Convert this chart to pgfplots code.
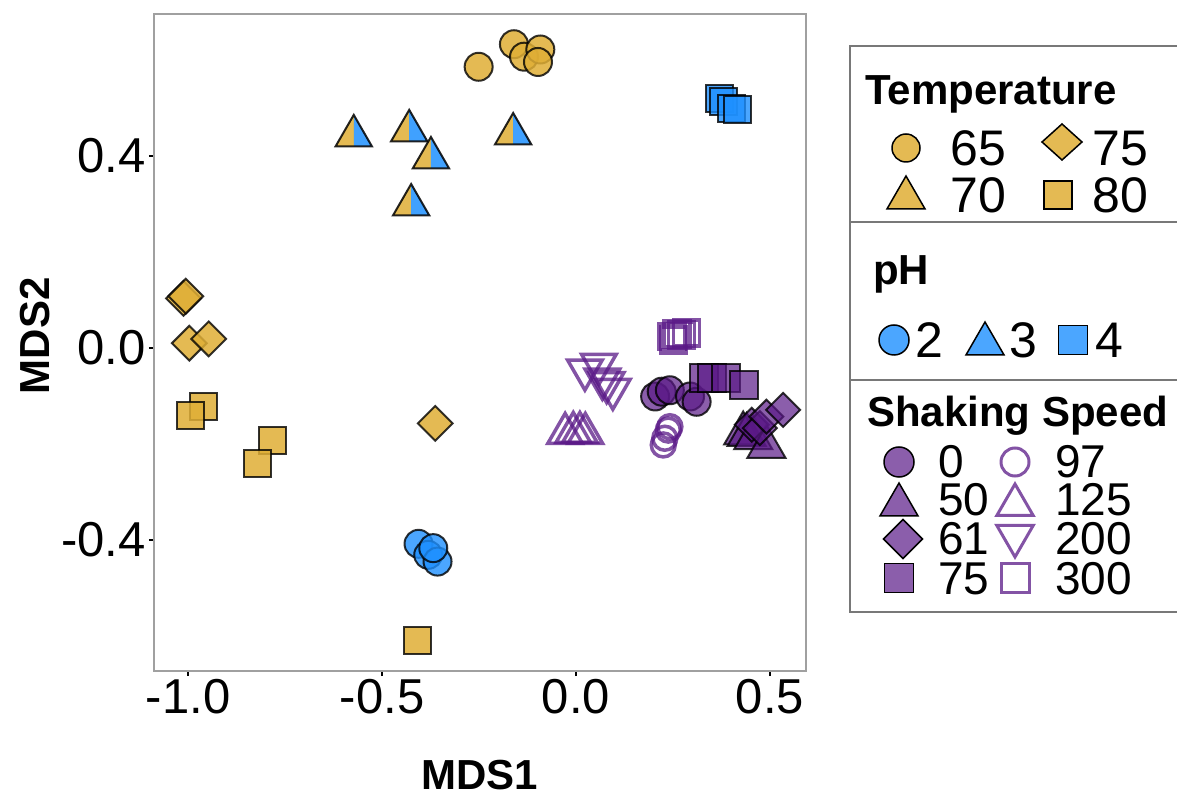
\documentclass[border=0pt]{standalone}
\usepackage{pgfplots}
\pgfplotsset{compat=1.18}
\usepackage{fontspec}
\setmainfont{Liberation Sans}
\definecolor{tgold}{RGB}{223,174,53}
\definecolor{tblue}{RGB}{30,144,255}
\definecolor{tpurp}{RGB}{90,25,135}
\definecolor{framegray}{RGB}{160,160,160}
\definecolor{leggray}{RGB}{120,120,120}

\pgfdeclareplotmark{splittri}{%
  \pgfsetfillopacity{0.85}%
  \pgfpathmoveto{\pgfqpoint{0pt}{\pgfplotmarksize}}%
  \pgfpathlineto{\pgfqpoint{-0.8660254\pgfplotmarksize}{-0.5\pgfplotmarksize}}%
  \pgfpathlineto{\pgfqpoint{0pt}{-0.5\pgfplotmarksize}}%
  \pgfpathclose
  \pgfsetfillcolor{tgold}%
  \pgfusepath{fill}%
  \pgfpathmoveto{\pgfqpoint{0pt}{\pgfplotmarksize}}%
  \pgfpathlineto{\pgfqpoint{0.8660254\pgfplotmarksize}{-0.5\pgfplotmarksize}}%
  \pgfpathlineto{\pgfqpoint{0pt}{-0.5\pgfplotmarksize}}%
  \pgfpathclose
  \pgfsetfillcolor{tblue}%
  \pgfusepath{fill}%
  \pgfpathmoveto{\pgfqpoint{0pt}{\pgfplotmarksize}}%
  \pgfpathlineto{\pgfqpoint{-0.8660254\pgfplotmarksize}{-0.5\pgfplotmarksize}}%
  \pgfpathlineto{\pgfqpoint{0.8660254\pgfplotmarksize}{-0.5\pgfplotmarksize}}%
  \pgfpathclose
  \pgfsetstrokecolor{black}%
  \pgfsetstrokeopacity{0.85}%
  \pgfusepath{stroke}%
}

\newcommand{\legtri}[4]{\filldraw[#1] (#2,#3) ++(0,#4) -- ++({-0.866*#4},{-1.5*#4}) -- ++({1.732*#4},0) -- cycle;}
\newcommand{\leginvtri}[4]{\filldraw[#1] (#2,#3) ++(0,-#4) -- ++({-0.866*#4},{1.5*#4}) -- ++({1.732*#4},0) -- cycle;}
\newcommand{\legsq}[4]{\filldraw[#1] ({#2-#4},{#3-#4}) rectangle ({#2+#4},{#3+#4});}
\newcommand{\legdia}[5]{\filldraw[#1] (#2,{#3+#5}) -- ({#2+#4},#3) -- (#2,{#3-#5}) -- ({#2-#4},#3) -- cycle;}
\newcommand{\legtxt}[3]{\node[anchor=base west, inner sep=0pt, font=\fontsize{50}{52}\selectfont] at (#1,#2) {#3};}
\newcommand{\legtxts}[3]{\node[anchor=base west, inner sep=0pt, font=\fontsize{46}{47}\selectfont] at (#1,#2) {#3};}

\begin{document}
\begin{tikzpicture}[x=1pt,y=1pt]
\useasboundingbox (0,0) rectangle (1177,798);
\begin{axis}[
  at={(154pt,127pt)}, anchor=south west, scale only axis,
  width=652pt, height=657pt,
  xmin=-1.088, xmax=0.593, ymin=-0.673, ymax=0.696,
  axis line style={framegray, line width=2.5pt},
  xtick={-1,-0.5,0,0.5}, xticklabels={-1.0,-0.5,0.0,0.5},
  ytick={-0.4,0,0.4}, yticklabels={-0.4,0.0,0.4},
  tick align=outside, xtick pos=bottom, ytick pos=left,
  major tick length=5pt, tick style={black, line width=2pt},
  ticklabel style={font=\fontsize{49}{50}\selectfont, text=black},
  xlabel={MDS1}, ylabel={MDS2},
  label style={font=\fontsize{42}{44}\selectfont\bfseries},
  xlabel style={at={(axis description cs:0.5,-0.158)}, anchor=center},
  ylabel style={at={(axis description cs:-0.182,0.51)}, anchor=center},
]
% Temperature 65 (circles)
\addplot[only marks, mark=*, mark size=14pt, mark options={fill=tgold, fill opacity=0.85, draw=black, draw opacity=0.8, line width=2pt}] coordinates {
(-0.251,0.586) (-0.160,0.633) (-0.134,0.607) (-0.092,0.622) (-0.098,0.596)};
% Temperature 70 / pH 3 (split triangles)
\addplot[only marks, mark=splittri, mark size=21pt, mark options={line width=2pt}] coordinates {
(-0.573,0.442) (-0.430,0.4525) (-0.374,0.396) (-0.425,0.298) (-0.162,0.446)};
% Temperature 75 (diamonds)
\addplot[only marks, mark=square*, mark size=12.3pt, mark options={rotate=45, fill=tgold, fill opacity=0.85, draw=black, draw opacity=0.8, line width=2pt}] coordinates {
(-1.012,0.1035) (-1.006,0.108) (-0.997,0.010) (-0.947,0.019) (-0.363,-0.157)};
% Temperature 80 (squares)
\addplot[only marks, mark=square*, mark size=13.5pt, mark options={fill=tgold, fill opacity=0.85, draw=black, draw opacity=0.8, line width=2pt}] coordinates {
(-0.961,-0.122) (-0.993,-0.141) (-0.783,-0.192) (-0.820,-0.240) (-0.408,-0.610)};
% pH 2 (circles)
\addplot[only marks, mark=*, mark size=14pt, mark options={fill=tblue, fill opacity=0.8, draw=black, draw opacity=0.8, line width=2pt}] coordinates {
(-0.406,-0.408) (-0.381,-0.431) (-0.357,-0.445) (-0.368,-0.417)};
% pH 4 (squares)
\addplot[only marks, mark=square*, mark size=13.5pt, mark options={fill=tblue, fill opacity=0.8, draw=black, draw opacity=0.8, line width=2pt}] coordinates {
(0.369,0.519) (0.380,0.514) (0.401,0.499) (0.417,0.497)};
% Shaking 0 (filled circles)
\addplot[only marks, mark=*, mark size=14pt, mark options={fill=tpurp, fill opacity=0.7, draw=black, draw opacity=0.8, line width=2pt}] coordinates {
(0.204,-0.101) (0.221,-0.091) (0.242,-0.088) (0.294,-0.101) (0.311,-0.112)};
% Shaking 50 (filled triangles)
\addplot[only marks, mark=triangle*, mark size=22pt, mark options={fill=tpurp, fill opacity=0.7, draw=black, draw opacity=0.8, line width=2pt}] coordinates {
(0.431,-0.178) (0.440,-0.181) (0.457,-0.188) (0.491,-0.206)};
% Shaking 61 (filled diamonds)
\addplot[only marks, mark=square*, mark size=12pt, mark options={rotate=45, fill=tpurp, fill opacity=0.7, draw=black, draw opacity=0.8, line width=2pt}] coordinates {
(0.453,-0.160) (0.474,-0.167) (0.491,-0.143) (0.534,-0.129)};
% Shaking 75 (filled squares)
\addplot[only marks, mark=square*, mark size=14pt, mark options={fill=tpurp, fill opacity=0.7, draw=black, draw opacity=0.8, line width=2pt}] coordinates {
(0.330,-0.062) (0.350,-0.063) (0.387,-0.062) (0.433,-0.077)};
% Shaking 97 (open circles)
\addplot[only marks, mark=o, mark size=12pt, mark options={draw=tpurp, draw opacity=0.75, line width=3.5pt}] coordinates {
(0.242,-0.164) (0.238,-0.171) (0.229,-0.188) (0.225,-0.202)};
% Shaking 125 (open triangles)
\addplot[only marks, mark=triangle, mark size=20pt, mark options={draw=tpurp, draw opacity=0.75, line width=3.5pt}] coordinates {
(-0.028,-0.178) (-0.007,-0.176) (0.010,-0.176) (0.024,-0.178)};
% Shaking 200 (open down triangles)
\addplot[only marks, mark=triangle, mark size=20pt, mark options={rotate=180, draw=tpurp, draw opacity=0.75, line width=3.5pt}] coordinates {
(0.023,-0.046) (0.059,-0.034) (0.068,-0.065) (0.079,-0.072) (0.095,-0.086)};
% Shaking 300 (open squares)
\addplot[only marks, mark=square, mark size=13pt, mark options={draw=tpurp, draw opacity=0.75, line width=3.5pt}] coordinates {
(0.247,0.0235) (0.260,0.029) (0.272,0.027) (0.285,0.031) (0.251,0.017)};
\end{axis}

% ---- Legend ----
\draw[leggray, line width=2pt] (850,186) rectangle (1195,752);
\draw[leggray, line width=2pt] (850,576) -- (1195,576);
\draw[leggray, line width=2pt] (850,418) -- (1195,418);
\node[anchor=base west, inner sep=0pt, font=\fontsize{42}{44}\selectfont\bfseries] at (865,693) {Temperature};
\node[anchor=base west, inner sep=0pt, font=\fontsize{42}{44}\selectfont\bfseries] at (873,513) {pH};
\node[anchor=base west, inner sep=0pt, font=\fontsize{42}{44}\selectfont\bfseries] at (867,371) {Shaking Speed};
% Temperature
\filldraw[fill=tgold, fill opacity=0.85, draw=black, line width=1.5pt] (906,650) circle (14);
\legtxt{950}{632}{65}
\legdia{fill=tgold, fill opacity=0.85, draw=black, line width=1.5pt}{1062}{656}{20}{18}
\legtxt{1092}{632}{75}
\legtri{fill=tgold, fill opacity=0.85, draw=black, line width=1.5pt}{906}{600}{22}
\legtxt{950}{585}{70}
\legsq{fill=tgold, fill opacity=0.85, draw=black, line width=1.5pt}{1058}{603}{14}
\legtxt{1092}{585}{80}
% pH
\filldraw[fill=tblue, fill opacity=0.8, draw=black, line width=1.5pt] (894,458) circle (15);
\legtxt{915}{440}{2}
\legtri{fill=tblue, fill opacity=0.8, draw=black, line width=1.5pt}{985}{454}{22}
\legtxt{1009}{440}{3}
\legsq{fill=tblue, fill opacity=0.8, draw=black, line width=1.5pt}{1073}{458}{14.5}
\legtxt{1095}{440}{4}
% Shaking speed
\filldraw[fill=tpurp, fill opacity=0.7, draw=black, line width=1.5pt] (899,336) circle (15);
\legtxts{938}{320}{0}
\legtri{fill=tpurp, fill opacity=0.7, draw=black, line width=1.5pt}{899}{293}{22}
\legtxts{938}{282}{50}
\legdia{fill=tpurp, fill opacity=0.7, draw=black, line width=1.5pt}{903}{259}{19.5}{19.5}
\legtxts{938}{243}{61}
\legsq{fill=tpurp, fill opacity=0.7, draw=black, line width=1.5pt}{899}{220}{14.5}
\legtxts{938}{204}{75}
\draw[tpurp, draw opacity=0.75, line width=3pt] (1015,336) circle (14);
\legtxts{1055}{320}{97}
\legtri{draw=tpurp, draw opacity=0.75, fill=none, line width=3pt}{1015}{293}{21}
\legtxts{1055}{282}{125}
\leginvtri{draw=tpurp, draw opacity=0.75, fill=none, line width=3pt}{1015}{262}{21}
\legtxts{1055}{243}{200}
\legsq{draw=tpurp, draw opacity=0.75, fill=none, line width=3pt}{1015}{220}{14}
\legtxts{1055}{204}{300}
\end{tikzpicture}
\end{document}
